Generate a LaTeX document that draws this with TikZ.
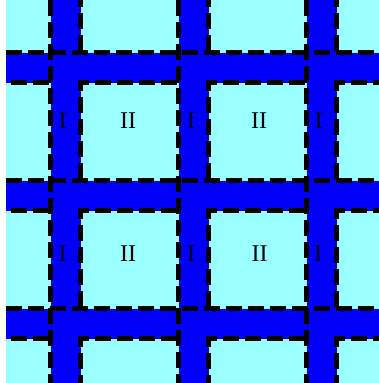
\documentclass[tikz,border=0pt]{standalone}
\usepackage{fontspec}
\setmainfont{Liberation Serif}
\definecolor{cellcol}{RGB}{153,255,255}
\definecolor{bandcol}{RGB}{0,0,250}
\begin{document}
\begin{tikzpicture}[x=1pt,y=-1pt,
  edge/.style={draw=black,line width=4.6pt,dash pattern=on 16pt off 6pt},
  lbl/.style={font=\fontsize{24}{24}\selectfont,inner sep=0pt}]
\useasboundingbox (0,0) rectangle (379,383);
\begin{scope}
\clip (6,0) rectangle (379,383);
\fill[cellcol] (6,0) rectangle (379,383);
% bands
\foreach \k in {0,1,2} {
  \fill[bandcol] ({50.5+128*\k},0) rectangle ({80.5+128*\k},383);
  \fill[bandcol] (6,{52.5+128*\k}) rectangle (379,{82.5+128*\k});
}
% cell lines
\foreach \k in {0,1,2} {
  \draw[edge] ({50.5+128*\k},0) -- ({50.5+128*\k},383);
  \draw[edge] (6,{52.5+128*\k}) -- (379,{52.5+128*\k});
}
% square borders
\foreach \i in {-1,...,2} \foreach \j in {-1,...,2}
  \draw[edge,dash phase=20pt] ({80.5+128*\i},{180.5+128*\j}) |- ({178.5+128*\i},{82.5+128*\j});
\end{scope}
\node[lbl] (Ia) at (62.5,121) {I};
\node[lbl] (IIa) at (128,121) {II};
\node[lbl] (Ib) at (191,121) {I};
\node[lbl] (IIb) at (259,121) {II};
\node[lbl] (Ic) at (318.5,121) {I};
\node[lbl] (Id) at (62.5,254) {I};
\node[lbl] (IId) at (128,254) {II};
\node[lbl] (Ie) at (191,254) {I};
\node[lbl] (IIe) at (259.5,254) {II};
\node[lbl] (If) at (318,254) {I};
\end{tikzpicture}
\end{document}
